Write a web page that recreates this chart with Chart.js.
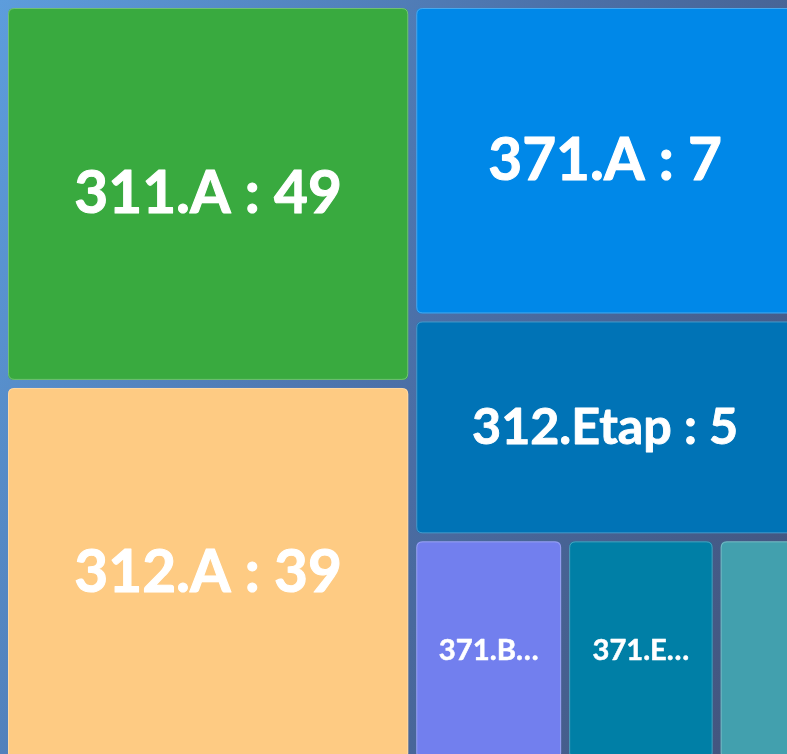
<!DOCTYPE html>
<html><head><meta charset="utf-8">
<script src="https://cdn.jsdelivr.net/npm/chart.js@4.4.1/dist/chart.umd.min.js"></script>
<style>
html,body{margin:0;padding:0;width:787px;height:754px;overflow:hidden;}
body{background:linear-gradient(115deg,#5d9ddc 0%,#4b70a8 50%,#42527a 100%);}
canvas{display:block}
</style></head><body>
<canvas id="c" width="787" height="754"></canvas>
<script>
// ---- data ----
const categories = ['311.A', '312.A', '371.A', '312.Etap', '371.B…', '371.E…', ''];
const values     = [49, 39, 7, 5, null, null, null];
// relative cell areas (treemap weights) as seen in the picture
const areas      = [49, 48.9, 38.2, 26.8, 10.9, 10.8, 5.8];
const colors     = ['#39aa3f', '#fecb83', '#0088e8', '#0073b6', '#727fee', '#007fa6', '#42a0ae'];

// full treemap extent (data units) and the visible window of it
const TREE_W = 794, TREE_H = 759;
const VIEW_W = 783, VIEW_H = 750;
const GAP = 8;

function squarify(weights, W, H) {
  const total = weights.reduce((p, q) => p + q, 0);
  const sc = W * H / total;
  const a = weights.map(v => v * sc);
  const out = new Array(a.length);
  let x = 0, y = 0, w = W, h = H, i = 0;
  const worst = (row, s) => {
    const sum = row.reduce((p, q) => p + q, 0);
    let m = 0;
    for (const r of row) { const v = s * s * r / (sum * sum); m = Math.max(m, v, 1 / v); }
    return m;
  };
  while (i < a.length) {
    const s = Math.min(w, h);
    const row = [a[i]], idx = [i]; i++;
    while (i < a.length && worst(row.concat(a[i]), s) <= worst(row, s)) { row.push(a[i]); idx.push(i); i++; }
    const sum = row.reduce((p, q) => p + q, 0);
    if (w >= h) {
      const cw = sum / h; let yy = y;
      idx.forEach((k, j) => { const ch = row[j] / cw; out[k] = {x0: x, x1: x + cw, y0: yy, y1: yy + ch}; yy += ch; });
      x += cw; w -= cw;
    } else {
      const rh = sum / w; let xx = x;
      idx.forEach((k, j) => { const cw = row[j] / rh; out[k] = {x0: xx, x1: xx + cw, y0: y, y1: y + rh}; xx += cw; });
      y += rh; h -= rh;
    }
  }
  return out;
}

const cells = squarify(areas, TREE_W, TREE_H);

function roundRectPath(ctx, x, y, w, h, r) {
  ctx.beginPath();
  ctx.moveTo(x + r, y);
  ctx.lineTo(x + w - r, y); ctx.quadraticCurveTo(x + w, y, x + w, y + r);
  ctx.lineTo(x + w, y + h - r); ctx.quadraticCurveTo(x + w, y + h, x + w - r, y + h);
  ctx.lineTo(x + r, y + h); ctx.quadraticCurveTo(x, y + h, x, y + h - r);
  ctx.lineTo(x, y + r); ctx.quadraticCurveTo(x, y, x + r, y);
  ctx.closePath();
}

const treemapPlugin = {
  id: 'treemapCells',
  afterDatasetsDraw(chart) {
    const {ctx} = chart;
    const xs = chart.scales.x, ys = chart.scales.y;
    cells.forEach((c, i) => {
      const L = xs.getPixelForValue(c.x0) + GAP / 2;
      const R = xs.getPixelForValue(c.x1) - GAP / 2;
      const T = ys.getPixelForValue(c.y0) + GAP / 2;
      const B = ys.getPixelForValue(c.y1) - GAP / 2;
      const w = R - L, h = B - T;
      ctx.save();
      roundRectPath(ctx, L, T, w, h, 6);
      ctx.fillStyle = colors[i];
      ctx.fill();
      roundRectPath(ctx, L + 0.5, T + 0.5, w - 1, h - 1, 6);
      ctx.strokeStyle = 'rgba(255,255,255,0.28)';
      ctx.lineWidth = 1;
      ctx.stroke();
      const name = categories[i];
      if (name) {
        let text = values[i] == null ? name : name + ' : ' + values[i];
        const fs = Math.min(58.5, 0.0735 * Math.pow(w * h, 0.578));
        ctx.font = 'bold ' + fs.toFixed(1) + 'px Lato, "Open Sans", sans-serif';
        ctx.fillStyle = '#ffffff';
        ctx.strokeStyle = '#ffffff';
        ctx.lineWidth = fs * 0.018;
        ctx.lineJoin = 'round';
        ctx.textAlign = 'center';
        ctx.textBaseline = 'middle';
        const maxW = w - 16;
        if (ctx.measureText(text).width > maxW) {
          let t = text;
          while (t.length > 1 && ctx.measureText(t + '…').width > maxW) t = t.slice(0, -1);
          text = t.length > 1 ? t + '…' : '';
        }
        if (text) {
          ctx.fillText(text, (L + R) / 2, (T + B) / 2);
          ctx.strokeText(text, (L + R) / 2, (T + B) / 2);
        }
      }
      ctx.restore();
    });
  }
};

new Chart(document.getElementById('c'), {
  type: 'scatter',
  data: {
    datasets: [{
      label: 'cells',
      data: cells.map(c => ({x: (c.x0 + c.x1) / 2, y: (c.y0 + c.y1) / 2})),
      pointRadius: 0,
      pointHoverRadius: 0
    }]
  },
  options: {
    responsive: false,
    animation: false,
    layout: {padding: {left: 4, top: 4, right: 0, bottom: 0}},
    scales: {
      x: {type: 'linear', display: false, min: 0, max: VIEW_W},
      y: {type: 'linear', display: false, min: 0, max: VIEW_H, reverse: true}
    },
    plugins: {legend: {display: false}, tooltip: {enabled: false}}
  },
  plugins: [treemapPlugin]
});
</script>
</body></html>
